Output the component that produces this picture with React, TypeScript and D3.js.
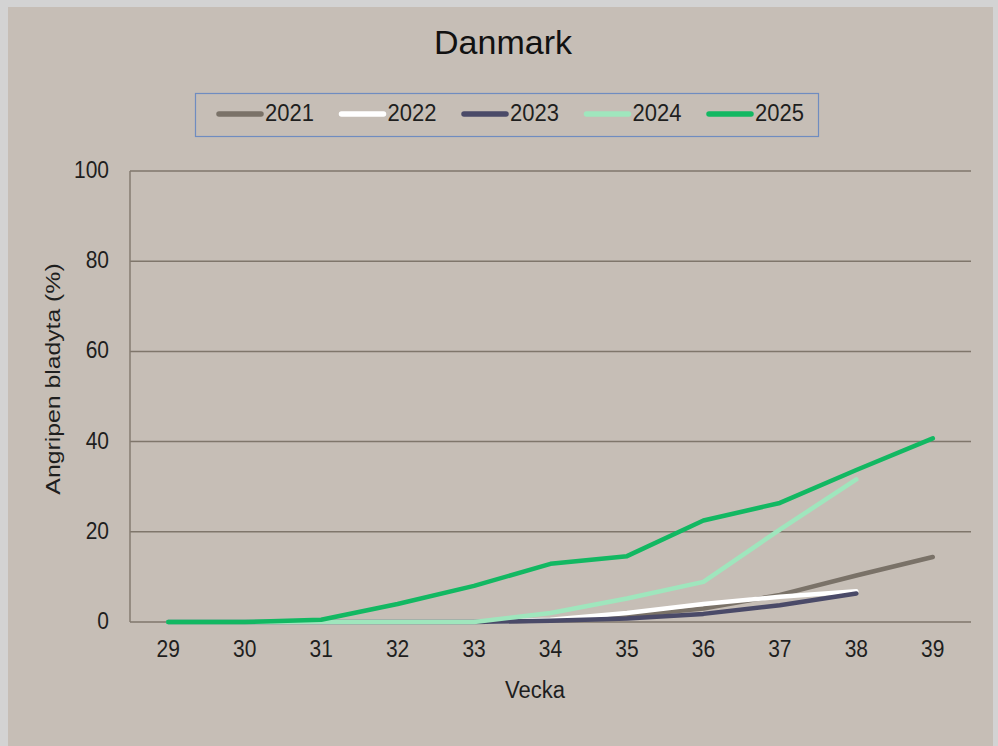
import { useEffect, useRef } from "react";
import * as d3 from "d3";

const weeks = ["29", "30", "31", "32", "33", "34", "35", "36", "37", "38", "39"];
const seriesNames = ["2021", "2022", "2023", "2024", "2025"];
const seriesColors = ["#7a7268", "#ffffff", "#4a4a68", "#9fe6bd", "#12b862"];

const values2021 = [0, 0, 0, 0, 0, 0.4, 1.4, 3, 6, 10.3, 14.4];
const values2022 = [0, 0, 0, 0, 0, 0.5, 2, 4, 5.6, 6.8, null];
const values2023 = [0, 0, 0, 0, 0, 0.3, 0.8, 1.8, 3.7, 6.3, null];
const values2024 = [0, 0, 0, 0, 0, 2, 5.2, 8.9, 20.5, 31.6, null];
const values2025 = [0, 0, 0.5, 4, 8, 12.9, 14.6, 22.5, 26.4, 33.7, 40.7];

const yTicks = [0, 20, 40, 60, 80, 100];

const W = 998;
const H = 746;
const margin = { left: 130, right: 27, top: 171, bottom: 124 };
const stretch = 1.1; // text in the picture is a bit taller than wide

const App = () => {
  const ref = useRef<SVGSVGElement>(null);

  useEffect(() => {
    const svg = d3.select(ref.current);
    svg.selectAll("*").remove();
    const font = "Liberation Sans, Arial, sans-serif";

    // page and chart backgrounds
    svg.append("rect").attr("width", W).attr("height", H).attr("fill", "#d3d3d3");
    svg.append("rect").attr("x", 8).attr("y", 7).attr("width", 985).attr("height", H - 7).attr("fill", "#c6beb6");

    const x = d3
      .scaleBand()
      .domain(weeks)
      .range([margin.left, W - margin.right]);
    const y = d3
      .scaleLinear()
      .domain([0, 100])
      .range([H - margin.bottom, margin.top]);

    const label = (tx: number, ty: number, txt: string, size: number, anchor: string) =>
      svg
        .append("text")
        .attr("transform", `translate(${tx},${ty}) scale(1,${stretch})`)
        .attr("text-anchor", anchor)
        .attr("font-family", font)
        .attr("font-size", size)
        .attr("fill", "#1e1e1e")
        .text(txt);

    // gridlines
    svg
      .append("g")
      .selectAll("line")
      .data(yTicks)
      .join("line")
      .attr("x1", margin.left)
      .attr("x2", W - margin.right)
      .attr("y1", (d) => y(d))
      .attr("y2", (d) => y(d))
      .attr("stroke", "#7f766b")
      .attr("stroke-width", 1.5);

    svg
      .append("line")
      .attr("x1", margin.left)
      .attr("x2", margin.left)
      .attr("y1", y(0))
      .attr("y2", y(100))
      .attr("stroke", "#857b70")
      .attr("stroke-width", 1.5);

    yTicks.forEach((t) => label(109, y(t) + 7, String(t), 21, "end"));
    weeks.forEach((w) => label(x(w)! + x.bandwidth() / 2, 657, w, 21, "middle"));

    label(535, 698, "Vecka", 22, "middle");

    svg
      .append("text")
      .attr("transform", "translate(60,379) rotate(-90) scale(1.18,1)")
      .attr("text-anchor", "middle")
      .attr("font-family", font)
      .attr("font-size", 21)
      .attr("fill", "#1e1e1e")
      .text("Angripen bladyta (%)");

    svg
      .append("text")
      .attr("x", 503)
      .attr("y", 54)
      .attr("text-anchor", "middle")
      .attr("font-family", font)
      .attr("font-size", 34)
      .attr("fill", "#111")
      .text("Danmark");

    // series lines
    const allValues = [values2021, values2022, values2023, values2024, values2025];
    const line = d3
      .line<number | null>()
      .defined((d) => d !== null)
      .x((_, i) => x(weeks[i])! + x.bandwidth() / 2)
      .y((d) => y(d as number));

    allValues.forEach((vals, k) => {
      svg
        .append("path")
        .datum(vals)
        .attr("d", line)
        .attr("fill", "none")
        .attr("stroke", seriesColors[k])
        .attr("stroke-width", 4.5)
        .attr("stroke-linecap", "round")
        .attr("stroke-linejoin", "round");
    });

    // legend
    svg
      .append("rect")
      .attr("x", 195.5)
      .attr("y", 93.5)
      .attr("width", 623)
      .attr("height", 43)
      .attr("fill", "none")
      .attr("stroke", "#6f8cc0")
      .attr("stroke-width", 1.2);
    seriesNames.forEach((name, k) => {
      const lx = 219 + k * 122.5;
      svg
        .append("line")
        .attr("x1", lx)
        .attr("x2", lx + 42)
        .attr("y1", 114)
        .attr("y2", 114)
        .attr("stroke", seriesColors[k])
        .attr("stroke-width", 5.5)
        .attr("stroke-linecap", "round");
      label(lx + 46, 121, name, 22, "start");
    });
  }, []);

  return (
    <svg
      ref={ref}
      width={W}
      height={H}
      style={{ position: "absolute", left: 0, top: 0 }}
    />
  );
};

export default App;
